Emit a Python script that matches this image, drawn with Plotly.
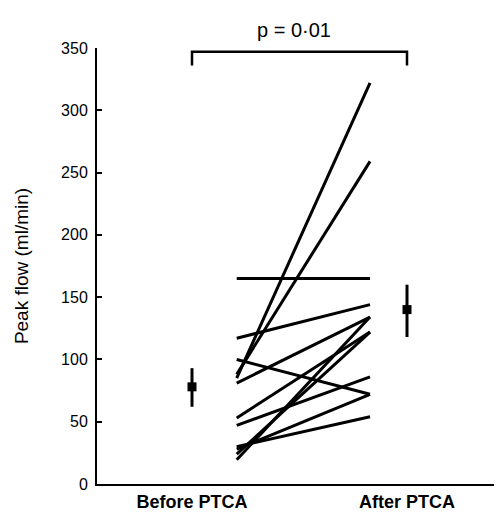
import plotly.graph_objects as go

# Data
categories = ["Before PTCA", "After PTCA"]
before_vals = [165, 117, 100, 85, 88, 81, 53, 47, 30, 28, 24, 19.5]
after_vals = [165, 144, 72, 322, 259, 134, 122, 86, 54, 72, 122, 134]
mean_vals = [78, 140]
err_plus = [15, 20]
err_minus = [16, 22]
y_ticks = [0, 50, 100, 150, 200, 250, 300, 350]
p_text = "p = 0·01"

cat_x = [1, 2]
line_x = [1.208, 1.828]

fig = go.Figure()
for b, a in zip(before_vals, after_vals):
    fig.add_trace(go.Scatter(x=line_x, y=[b, a], mode="lines",
                             line=dict(color="black", width=3),
                             showlegend=False, hoverinfo="skip"))

fig.add_trace(go.Scatter(
    x=cat_x, y=mean_vals, mode="markers",
    marker=dict(symbol="square", size=9, color="black"),
    error_y=dict(type="data", symmetric=False, array=err_plus,
                 arrayminus=err_minus, color="black", thickness=3, width=0),
    showlegend=False))

# bracket
fig.add_shape(type="path", xref="x", yref="y",
              path="M 1,336 L 1,347 L 2,347 L 2,336",
              line=dict(color="black", width=2.5))
fig.add_annotation(x=1.5, y=347, xref="x", yref="y", text=p_text,
                   showarrow=False, yanchor="bottom", yshift=9, xshift=-6,
                   font=dict(size=20, color="black"))

# page body has an 8px margin: figure is shrunk by 8px to fit the window
fig.update_layout(
    width=494, height=506,
    margin=dict(l=89, r=2, t=40, b=28),
    paper_bgcolor="white", plot_bgcolor="white",
    font=dict(family="Liberation Sans, Arial, sans-serif", color="black", size=16),
    xaxis=dict(range=[0.5581, 2.4326], tickvals=cat_x, ticktext=categories,
               showline=True, linecolor="black", linewidth=2, ticks="",
               showgrid=False, zeroline=False,
               tickfont=dict(size=18, family="Liberation Sans, Arial, sans-serif", weight="bold")),
    yaxis=dict(range=[0, 350], tickvals=y_ticks, showline=True,
               linecolor="black", linewidth=2, ticks="inside", ticklen=5,
               tickwidth=2, tickcolor="black", showgrid=False, zeroline=False,
               ticklabelstandoff=4,
               title=dict(text="Peak flow (ml/min)", font=dict(size=19), standoff=27),
               tickfont=dict(size=16)),
)
fig.write_html("out.html")
